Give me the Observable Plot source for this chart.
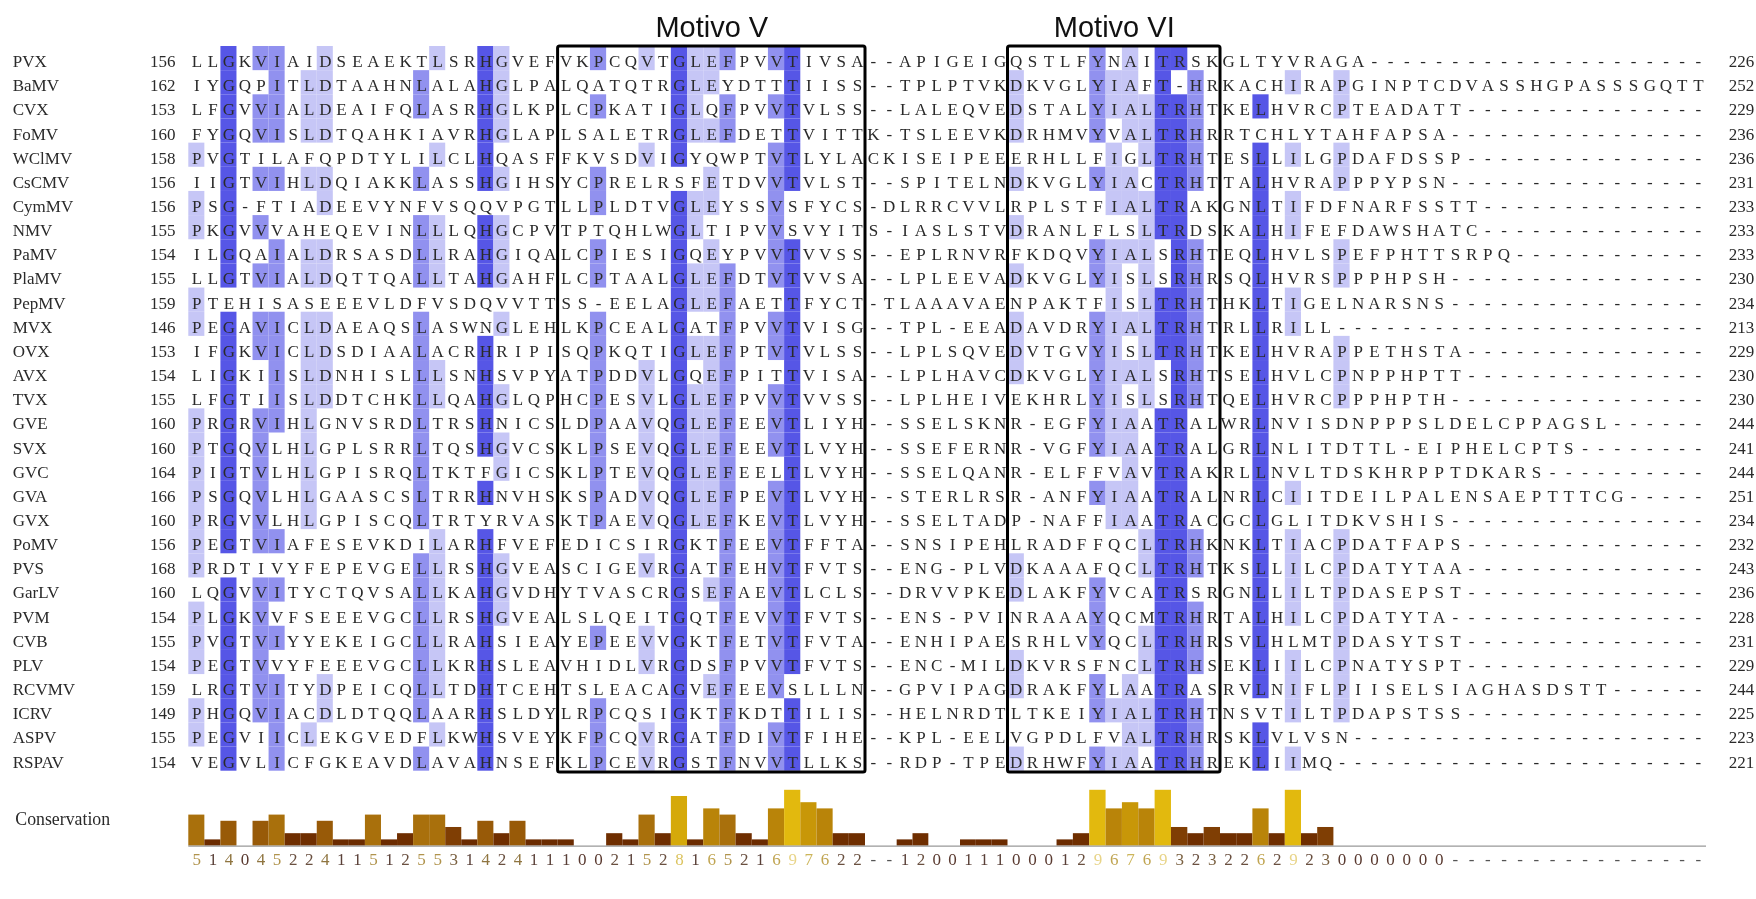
<!DOCTYPE html>
<html>
<head>
<meta charset="utf-8">
<title>Motivo V / Motivo VI</title>
<style>html,body{margin:0;padding:0;background:#fff}svg{display:block;filter:blur(0.45px)}</style>
<script src="https://cdn.jsdelivr.net/npm/d3@7"></script>
<script src="https://cdn.jsdelivr.net/npm/@observablehq/plot@0.6"></script>
</head>
<body>
<div id="chart"></div>
<script>
const names = ["PVX","BaMV","CVX","FoMV","WClMV","CsCMV","CymMV","NMV","PaMV","PlaMV","PepMV","MVX","OVX","AVX","TVX","GVE","SVX","GVC","GVA","GVX","PoMV","PVS","GarLV","PVM","CVB","PLV","RCVMV","ICRV","ASPV","RSPAV"];
const starts = [156,162,153,160,158,156,156,155,154,155,159,146,153,154,155,160,160,164,166,160,156,168,160,154,155,154,159,149,155,154];
const ends = [226,252,229,236,236,231,233,233,233,230,234,213,229,230,230,244,241,244,251,234,232,243,236,228,231,229,244,225,223,221];
const sequences = [
"LLGKVIAIDSEAEKTLSRHGVEFVKPCQVTGLEFPVVTIVSA--APIGEIGQSTLFYNAITRSKGLTYVRAGA",
"IYGQPITLDTAAHNLALAHGLPALQATQTRGLEYDTTTIISS--TPLPTVKDKVGLYIAFT-HRKACHIRAPGINPTCDVASSHGPASSSGQTT",
"LFGVVIALDEAIFQLASRHGLKPLCPKATIGLQFPVVTVLSS--LALEQVEDSTALYIALTRHTKELHVRCPTEADATT",
"FYGQVISLDTQAHKIAVRHGLAPLSALETRGLEFDETTVITTK-TSLEEVKDRHMVYVALTRHRRTCHLYTAHFAPSA",
"PVGTILAFQPDTYLILCLHQASFFKVSDVIGYQWPTVTLYLACKISEIPEEERHLLFIGLTRHTESLLILGPDAFDSSP",
"IIGTVIHLDQIAKKLASSHGIHSYCPRELRSFETDVVTVLST--SPITELNDKVGLYIACTRHTTALHVRAPPPYPSN",
"PSG-FTIADEEVYNFVSQQVPGTLLPLDTVGLEYSSVSFYCS-DLRRCVVLRPLSTFIALTRAKGNLTIFDFNARFSSTT",
"PKGVVVAHEQEVINLLLQHGCPVTPTQHLWGLTIPVVSVYITS-IASLSTVDRANLFLSLTRDSKALHIFEFDAWSHATC",
"ILGQAIALDRSASDLLRAHGIQALCPIESIGQEYPVVTVVSS--EPLRNVRFKDQVYIALSRHTEQLHVLSPEFPHTTSRPQ",
"LLGTVIALDQTTQALLTAHGAHFLCPTAALGLEFDTVTVVSA--LPLEEVADKVGLYISLSRHRSQLHVRSPPPHPSH",
"PTEHISASEEEVLDFVSDQVVTTSS-EELAGLEFAETTFYCT-TLAAAVAENPAKTFISLTRHTHKLTIGELNARSNS",
"PEGAVICLDAEAQSLASWNGLEHLKPCEALGATFPVVTVISG--TPL-EEADAVDRYIALTRHTRLLRILL",
"IFGKVICLDSDIAALACRHRIPISQPKQTIGLEFPTVTVLSS--LPLSQVEDVTGVYISLTRHTKELHVRAPPETHSTA",
"LIGKIISLDNHISLLLSNHSVPYATPDDVLGQEFPITTVISA--LPLHAVCDKVGLYIALSRHTSELHVLCPNPPHPTT",
"LFGTIISLDDTCHKLLQAHGLQPHCPESVLGLEFPVVTVVSS--LPLHEIVEKHRLYISLSRHTQELHVRCPPPHPTH",
"PRGRVIHLGNVSRDLTRSHNICSLDPAAVQGLEFEEVTLIYH--SSELSKNR-EGFYIAATRALWRLNVISDNPPPSLDELCPPAGSL",
"PTGQVLHLGPLSRRLTQSHGVCSKLPSEVQGLEFEEVTLVYH--SSEFERNR-VGFYIAATRALGRLNLITDTTL-EIPHELCPTS",
"PIGTVLHLGPISRQLTKTFGICSKLPTEVQGLEFEELTLVYH--SSELQANR-ELFFVAVTRAKRLLNVLTDSKHRPPTDKARS",
"PSGQVLHLGAASCSLTRRHNVHSKSPADVQGLEFPEVTLVYH--STERLRSR-ANFYIAATRALNRLCIITDEILPALENSAEPTTTCG",
"PRGVVLHLGPISCQLTRTYRVASKTPAEVQGLEFKEVTLVYH--SSELTADP-NAFFIAATRACGCLGLITDKVSHIS",
"PEGTVIAFESEVKDILARHFVEFEDICSIRGKTFEEVTFFTA--SNSIPEHLRADFFQCLTRHKNKLTIACPDATFAPS",
"PRDTIVYFEPEVGELLRSHGVEASCIGEVRGATFEHVTFVTS--ENG-PLVDKAAAFQCLTRHTKSLLILCPDATYTAA",
"LQGVVITYCTQVSALLKAHGVDHYTVASCRGSEFAEVTLCLS--DRVVPKEDLAKFYVCATRSRGNLLILTPDASEPST",
"PLGKVVFSEEEVGCLLRSHGVEALSLQEITGQTFEVVTFVTS--ENS-PVINRAAAYQCMTRHRTALHILCPDATYTA",
"PVGTVIYYEKEIGCLLRAHSIEAYEPEEVVGKTFETVTFVTA--ENHIPAESRHLVYQCLTRHRSVLHLMTPDASYTST",
"PEGTVVYFEEEVGCLLKRHSLEAVHIDLVRGDSFPVVTFVTS--ENC-MILDKVRSFNCLTRHSEKLIILCPNATYSPT",
"LRGTVITYDPEICQLLTDHTCEHTSLEACAGVEFEEVSLLLN--GPVIPAGDRAKFYLAATRASRVLNIFLPIISELSIAGHASDSTT",
"PHGQVIACDLDTQQLAARHSLDYLRPCQSIGKTFKDTTILIS--HELNRDTLTKEIYIALTRHTNSVTILTPDAPSTSS",
"PEGVIICLEKGVEDFLKWHSVEYKFPCQVRGATFDIVTFIHE--KPL-EELVGPDLFVALTRHRSKLVLVSN",
"VEGVLICFGKEAVDLAVAHNSEFKLPCEVRGSTFNVVTLLKS--RDP-TPEDRHWFYIAATRHREKLIIMQ"
];
// consensus residue of each shaded alignment column and its identity level (1 light, 2 medium, 3 dark)
const shadedColumns = [0,2,4,5,7,8,14,15,18,19,25,28,30,31,32,33,36,37,51,56,57,58,59,60,61,62,66,68,71];
const shadedResidues = ["P","G","V","I","L","D","L","L","H","G","P","V","G","L","E","F","V","T","D","Y","I","A","L","T","R","H","L","I","P"];
const shadedLevels =   [ 1,  3,  2,  2,  1,  1,  2,  1,  3,  1,  2,  1,  3,  1,  1,  2,  2,  3,  1,  2,  1,  1,  1,  3,  3,  2,  3,  1,  1];
const conservation = [5,1,4,0,4,5,2,2,4,1,1,5,1,2,5,5,3,1,4,2,4,1,1,1,0,0,2,1,5,2,8,1,6,5,2,1,6,9,7,6,2,2,"-","-",1,2,0,0,1,1,1,0,0,0,1,2,9,6,7,6,9,3,2,3,2,2,6,2,9,2,3,0,0,0,0,0,0,0,"-","-","-","-","-","-","-","-","-","-","-","-","-","-","-","-"];
const motifs = ["Motivo V","Motivo VI"];
const motifFrom = [23,51];
const motifTo = [42,64];

const COLS = 94, ROWS = 30;
const levelFill = {1:"#c6c6f6",2:"#9191ef",3:"#5656e6"};
const consFill = {0:"#6b2b00",1:"#6b2b00",2:"#6f2e00",3:"#7f3e04",4:"#985a08",5:"#a9700c",6:"#b98409",7:"#c89708",8:"#d5a90a",9:"#e2b90e"};
const consText = {0:"#5a3a30",1:"#5a4038",2:"#6a5040",3:"#7a6040",4:"#8f7540",5:"#b0934c",6:"#c0a552",7:"#ccb55a",8:"#dcc460",9:"#e8d488","-":"#555"};

const residues = [];
sequences.forEach((s, r) => {
  const full = s.padEnd(COLS, "-");
  for (let c = 0; c < COLS; c++) residues.push({row: r, col: c, ch: full[c]});
});
const shadeBy = new Map(shadedColumns.map((c, i) => [c, {res: shadedResidues[i], lvl: shadedLevels[i]}]));
const shaded = residues.filter(d => shadeBy.has(d.col) && shadeBy.get(d.col).res === d.ch)
  .map(d => ({...d, lvl: shadeBy.get(d.col).lvl}));
const consData = conservation.map((v, col) => ({col, v}));
const rowsData = names.map((name, row) => ({name, row, start: starts[row], end: ends[row]}));
const motifData = motifs.map((m, i) => ({m, from: motifFrom[i], to: motifTo[i]}));

const serif = "'Liberation Serif','Times New Roman',serif";
const sans = "'Liberation Sans',Arial,sans-serif";
const consBase = 33.1, consUnit = 0.2566, numRow = 33.67, labelRow = 32;

const chart = Plot.plot({
  width: 1756, height: 899,
  marginLeft: 0, marginRight: 0, marginTop: 0, marginBottom: 0,
  x: {type: "linear", domain: [-12, 0, 23, 42, 51, 64, 94, 98], range: [-4.5, 188.3, 557.6, 865, 1007.5, 1220, 1706, 1770.7], axis: null},
  y: {domain: [0, ROWS], range: [46, 770.7], axis: null},
  style: {background: "#fff", overflow: "visible"},
  marks: [
    Plot.rect(shaded, {x1: "col", x2: d => d.col + 1, y1: "row", y2: d => d.row + 1, fill: d => levelFill[d.lvl]}),
    Plot.text(residues, {x: d => d.col + 0.5, y: d => d.row + 0.5, text: "ch", dy: 3, fontFamily: serif, fontSize: 17, fill: "#2a2a2a"}),
    Plot.text(rowsData, {x: -10.96, y: d => d.row + 0.5, text: "name", dy: 3, textAnchor: "start", fontFamily: serif, fontSize: 17, fill: "#2a2a2a"}),
    Plot.text(rowsData, {x: -0.83, y: d => d.row + 0.5, text: "start", dy: 3, textAnchor: "end", fontFamily: serif, fontSize: 17, fill: "#2a2a2a"}),
    Plot.text(rowsData, {x: 96.95, y: d => d.row + 0.5, text: "end", dy: 3, textAnchor: "end", fontFamily: serif, fontSize: 17, fill: "#2a2a2a"}),
    Plot.rect(motifData, {x1: "from", x2: "to", y1: 0, y2: ROWS + 0.05, fill: "none", stroke: "#000", strokeWidth: 3, rx: 2}),
    Plot.text(motifData, {x: d => (d.from + d.to) / 2, y: -0.78, text: "m", fontFamily: sans, fontSize: 29, fill: "#111"}),
    Plot.rect(consData.filter(d => d.v !== "-" && d.v > 0), {x1: "col", x2: d => d.col + 1, y1: consBase, y2: d => consBase - d.v * consUnit, fill: d => consFill[d.v]}),
    Plot.ruleY([consBase], {x1: 0, x2: COLS, stroke: "#999", strokeWidth: 1.4}),
    Plot.text(consData, {x: d => d.col + 0.5, y: numRow, text: d => String(d.v), fontFamily: serif, fontSize: 17, fill: d => consText[d.v]}),
    Plot.text(["Conservation"], {x: -10.8, y: labelRow, text: d => d, textAnchor: "start", fontFamily: serif, fontSize: 17.8, fill: "#2a2a2a"})
  ]
});
document.getElementById("chart").append(chart);
</script>
</body>
</html>
